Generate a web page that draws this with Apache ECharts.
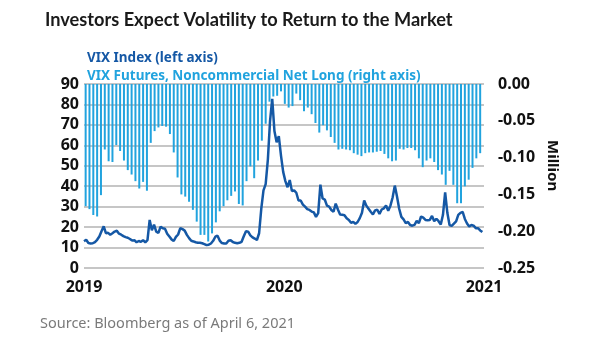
<!DOCTYPE html>
<html>
<head>
<meta charset="utf-8">
<title>VIX</title>
<script src="https://cdn.jsdelivr.net/npm/echarts@6/dist/echarts.min.js"></script>
<style>
  html, body { margin: 0; padding: 0; background: #fff; }
  #main { width: 605px; height: 341px; }
</style>
</head>
<body>
<div id="main"></div>
<script>
// VIX index, one reading every 4 days starting 2019-04-06
var vixStart = '2019-04-06';
var vixStepDays = 4;
var vixValues = [
  13.1, 13.8, 12.2, 12.0, 12.1, 12.7, 13.8, 15.4, 18.0, 20.4,
  17.0, 17.2, 16.3, 17.0, 17.8, 18.2, 16.8, 16.3, 15.6, 15.1,
  14.8, 14.2, 13.4, 13.6, 12.6, 13.2, 12.8, 13.6, 12.5, 13.6,
  23.5, 18.5, 21.2, 17.8, 17.2, 20.2, 19.4, 19.2, 16.8, 15.4,
  14.0, 13.2, 15.2, 16.4, 19.5, 19.0, 18.3, 16.2, 14.6, 13.3,
  13.0, 12.6, 12.4, 12.3, 12.1, 11.7, 11.2, 11.4, 12.0, 13.3,
  15.3, 15.8, 13.4, 12.2, 12.0, 12.0, 13.3, 13.6, 12.7, 12.3,
  12.1, 12.3, 12.8, 15.5, 18.0, 17.8, 16.0, 15.0, 14.4, 13.7,
  17.0, 29.0, 38.0, 41.0, 53.0, 72.0, 82.7, 67.0, 61.5, 64.5,
  55.0, 47.0, 42.5, 39.5, 43.0, 37.6, 38.0, 36.8, 33.0, 33.0,
  31.0, 30.0, 28.8, 28.4, 27.6, 27.2, 25.0, 26.8, 40.8, 34.0,
  33.5, 30.5, 30.0, 28.4, 27.5, 31.5, 28.6, 26.2, 26.0, 25.8,
  24.3, 23.5, 22.1, 22.6, 21.6, 22.5, 24.4, 27.0, 33.0, 30.5,
  29.0, 27.5, 26.2, 28.2, 28.5, 26.4, 28.6, 29.2, 30.6, 28.0,
  30.5, 34.5, 40.3, 35.0, 29.0, 25.0, 23.8, 22.0, 22.5, 21.0,
  20.7, 21.1, 23.0, 22.0, 25.2, 24.6, 23.5, 23.4, 23.5, 25.5,
  22.9, 24.1, 22.9, 21.3, 26.0, 37.0, 27.0, 21.0, 20.6, 21.7,
  22.8, 26.0, 27.0, 27.4, 24.0, 21.8, 20.3, 21.0, 20.7, 19.5,
  19.5, 18.4, 17.6
];

// VIX futures, noncommercial net long (million contracts), weekly from 2019-04-09
var futStart = '2019-04-09';
var futStepDays = 7;
var futValues = [
  -0.166, -0.170, -0.178, -0.180, -0.151, -0.089, -0.105, -0.106, -0.083, -0.091,
  -0.104, -0.117, -0.123, -0.132, -0.142, -0.133, -0.145, -0.080, -0.064, -0.059,
  -0.057, -0.058, -0.068, -0.093, -0.127, -0.150, -0.153, -0.160, -0.171, -0.187,
  -0.205, -0.205, -0.214, -0.203, -0.188, -0.173, -0.166, -0.158, -0.152, -0.146,
  -0.163, -0.165, -0.132, -0.112, -0.128, -0.104, -0.077, -0.054, -0.024, -0.017,
  -0.016, -0.010, -0.027, -0.032, -0.030, -0.013, -0.022, -0.037, -0.032, -0.041,
  -0.053, -0.066, -0.056, -0.063, -0.072, -0.080, -0.089, -0.088, -0.089, -0.090,
  -0.094, -0.096, -0.098, -0.094, -0.093, -0.093, -0.092, -0.091, -0.095, -0.101,
  -0.105, -0.104, -0.088, -0.089, -0.087, -0.087, -0.090, -0.101, -0.113, -0.104,
  -0.101, -0.106, -0.117, -0.123, -0.137, -0.118, -0.137, -0.162, -0.162, -0.139,
  -0.130, -0.114, -0.101, -0.094
];

// year labels sit on the anniversaries of the start date
var yearTicks = ['2019-04-06', '2020-04-06', '2021-04-06'];

var DAY = 24 * 3600 * 1000;

function ts(d) {
  return new Date(d + 'T00:00:00Z').getTime();
}

function toSeries(start, step, values) {
  var t0 = ts(start);
  return values.map(function (v, i) {
    return [t0 + i * step * DAY, v];
  });
}

var legendFont = { fontFamily: 'Noto Sans', fontSize: 13.5, fontWeight: 'bold' };

var chart = echarts.init(document.getElementById('main'));

chart.setOption({
  animation: false,
  textStyle: { fontFamily: 'Noto Sans' },
  title: {
    text: 'Investors Expect Volatility to Return to the Market',
    left: 40,
    top: 6,
    textStyle: { fontFamily: 'Lato', fontSize: 18.2, fontWeight: 'bold', color: '#1a1a1a' }
  },
  legend: {
    orient: 'vertical',
    left: 77,
    top: 46,
    icon: 'none',
    itemWidth: 0,
    itemGap: 4,
    selectedMode: false,
    textStyle: legendFont,
    data: [
      { name: 'VIX Index (left axis)', textStyle: Object.assign({ color: '#1558a5' }, legendFont) },
      { name: 'VIX Futures, Noncommercial Net Long (right axis)', textStyle: Object.assign({ color: '#21a3de' }, legendFont) }
    ]
  },
  grid: {
    left: 84,
    right: 121,
    top: 84,
    bottom: 73
  },
  // dates as timestamps on a plain value axis so the year marks can be placed freely
  xAxis: {
    type: 'value',
    min: ts(yearTicks[0]),
    max: ts(yearTicks[2]),
    axisLine: { show: false },
    axisTick: { show: false },
    splitLine: { show: false },
    axisLabel: {
      customValues: yearTicks.map(ts),
      formatter: function (value) {
        return String(new Date(value).getUTCFullYear());
      },
      fontSize: 16,
      fontWeight: 'bold',
      color: '#111',
      margin: 11
    }
  },
  yAxis: [
    { // VIX index
      type: 'value',
      min: 0,
      max: 90,
      interval: 10,
      axisLine: { show: false },
      axisTick: { show: false },
      splitLine: { lineStyle: { color: '#b3b3b3', width: 1.5 } },
      axisLabel: { fontSize: 16, fontWeight: 'bold', color: '#111', margin: 5 }
    },
    { // futures positioning, in million
      type: 'value',
      position: 'right',
      min: -0.25,
      max: 0,
      interval: 0.05,
      axisLine: { show: false },
      axisTick: { show: false },
      splitLine: { show: false },
      axisLabel: {
        fontSize: 16,
        fontWeight: 'bold',
        color: '#111',
        margin: 14,
        formatter: function (v) {
          return Math.abs(v) < 1e-9 ? '0.00' : v.toFixed(2);
        }
      }
    }
  ],
  graphic: [
    {
      type: 'text',
      left: 545,
      top: 140,
      rotation: -Math.PI / 2,
      style: { text: 'Million', font: 'bold 15px "Noto Sans"', fill: '#111' }
    },
    {
      type: 'text',
      left: 40,
      top: 316,
      style: { text: 'Source: Bloomberg as of April 6, 2021', font: '14.5px "Noto Sans"', fill: '#7a7a7a' }
    }
  ],
  series: [
    {
      name: 'VIX Futures, Noncommercial Net Long (right axis)',
      type: 'bar',
      yAxisIndex: 1,
      barWidth: 2,
      itemStyle: { color: '#21a3de' },
      data: toSeries(futStart, futStepDays, futValues)
    },
    {
      name: 'VIX Index (left axis)',
      type: 'line',
      yAxisIndex: 0,
      showSymbol: false,
      lineStyle: { color: '#1558a5', width: 2.5 },
      itemStyle: { color: '#1558a5' },
      z: 5,
      data: toSeries(vixStart, vixStepDays, vixValues)
    }
  ]
});
</script>
</body>
</html>
